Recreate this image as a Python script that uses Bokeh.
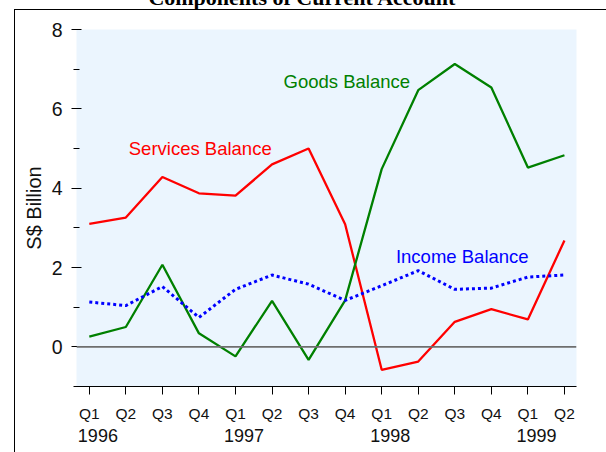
from bokeh.plotting import figure
from bokeh.models import FixedTicker, Span, Label, Range1d, LinearAxis
from bokeh.embed import file_html
from bokeh.resources import INLINE

# ---- data ----
quarters = ["Q1", "Q2", "Q3", "Q4", "Q1", "Q2", "Q3", "Q4", "Q1", "Q2", "Q3", "Q4", "Q1", "Q2"]
years = ["1996", "1997", "1998", "1999"]
year_start_index = [0, 4, 8, 12]
services = [3.10, 3.26, 4.28, 3.87, 3.81, 4.60, 5.00, 3.09, -0.58, -0.37, 0.63, 0.95, 0.69, 2.68]
goods = [0.26, 0.50, 2.07, 0.34, -0.24, 1.16, -0.33, 1.17, 4.48, 6.47, 7.13, 6.54, 4.52, 4.83]
income = [1.13, 1.04, 1.52, 0.74, 1.45, 1.81, 1.58, 1.17, 1.54, 1.92, 1.45, 1.48, 1.76, 1.81]
y_major = [0, 2, 4, 6, 8]
y_minor = [-1, 1, 3, 5, 7]
title_text = "Components of Current Account"

xs = list(range(len(quarters)))
FONT = "Liberation Sans"

X0, X1 = -0.35, 13.33
TOP = 28  # canvas starts this many px above the page (title is cut off)

p = figure(width=606, height=452 + TOP, output_backend="svg", toolbar_location=None,
           x_range=Range1d(X0, X1), y_range=Range1d(-1, 8),
           min_border_left=76, min_border_right=30,
           min_border_top=29 + TOP, min_border_bottom=66)
p.styles = {
    "margin-top": "-%dpx" % TOP,
    "background-image": "linear-gradient(#000,#000), linear-gradient(#000,#000)",
    "background-size": "1px 100%, 100% 1px",
    "background-position": "14px %dpx, 14px %dpx" % (9 + TOP, 9 + TOP),
    "background-repeat": "no-repeat",
}

p.background_fill_color = "#EBF5FE"
p.border_fill_alpha = 0
p.outline_line_color = None
p.xgrid.grid_line_color = None
p.ygrid.grid_line_color = None

# x axis (quarters)
xa = p.xaxis[0]
xa.ticker = FixedTicker(ticks=xs)
xa.major_label_overrides = {i: q for i, q in enumerate(quarters)}
xa.major_tick_in = 0
xa.major_tick_out = 8
xa.minor_tick_line_color = None
xa.axis_line_color = "black"
xa.major_tick_line_color = "black"
xa.major_label_text_font = FONT
xa.major_label_text_font_size = "15.5px"
xa.major_label_text_color = "#111111"
xa.major_label_standoff = 10

# second x axis (years, left-aligned under each Q1)
p.extra_x_ranges = {
    "yr": Range1d(X0 - 0.235, X1 - 0.235),
    "ttl": Range1d(X0 - 5.833, X1 - 5.833),
}
ya_years = LinearAxis(x_range_name="yr",
                      ticker=FixedTicker(ticks=year_start_index),
                      major_label_overrides={i: y for i, y in zip(year_start_index, years)})
ya_years.axis_line_color = None
ya_years.major_tick_line_color = None
ya_years.minor_tick_line_color = None
ya_years.major_tick_out = 0
ya_years.major_tick_in = 0
ya_years.major_label_text_font = FONT
ya_years.major_label_text_font_size = "18px"
ya_years.major_label_text_color = "#111111"
ya_years.major_label_standoff = 4
p.add_layout(ya_years, "below")

# title as a top axis label (cut off at the top edge like the reference)
t_axis = LinearAxis(x_range_name="ttl", ticker=FixedTicker(ticks=[0]),
                    major_label_overrides={0: title_text})
t_axis.axis_line_color = None
t_axis.major_tick_line_color = None
t_axis.minor_tick_line_color = None
t_axis.major_tick_out = 0
t_axis.major_tick_in = 0
t_axis.major_label_text_font = "Liberation Serif"
t_axis.major_label_text_font_style = "bold"
t_axis.major_label_text_font_size = "22px"
t_axis.major_label_text_color = "black"
t_axis.major_label_standoff = 20
p.add_layout(t_axis, "above")

# y axis
ya = p.yaxis[0]
ya.ticker = FixedTicker(ticks=y_major, minor_ticks=y_minor)
ya.axis_line_color = None
ya.major_tick_in = 5
ya.major_tick_out = 5
ya.minor_tick_in = 3
ya.minor_tick_out = 3
ya.major_tick_line_color = "black"
ya.minor_tick_line_color = "black"
ya.major_label_text_font = FONT
ya.major_label_text_font_size = "19.5px"
ya.major_label_text_color = "#111111"
ya.major_label_standoff = 9
ya.axis_label = "S$ Billion"
ya.axis_label_text_font = FONT
ya.axis_label_text_font_size = "20px"
ya.axis_label_text_font_style = "normal"
ya.axis_label_text_color = "#111111"
ya.axis_label_standoff = 4

# zero line
p.add_layout(Span(location=0, dimension="width", line_color="#6E6E6E", line_width=1.6))

# series
p.line(xs, services, line_color="#FF0000", line_width=2.3)
p.line(xs, goods, line_color="#008000", line_width=2.3)
p.line(xs, income, line_color="#0000FF", line_width=3, line_dash="3 3")

# series labels
for txt, x, y, col in [("Services Balance", 1.08, 4.99, "#FF0000"),
                       ("Goods Balance", 5.315, 6.68, "#008000"),
                       ("Income Balance", 8.39, 2.265, "#0000FF")]:
    p.add_layout(Label(x=x, y=y, text=txt, text_color=col, text_font=FONT,
                       text_font_size="18.5px", text_align="left",
                       text_baseline="alphabetic"))

open("out.html", "w").write(file_html(p, INLINE))
